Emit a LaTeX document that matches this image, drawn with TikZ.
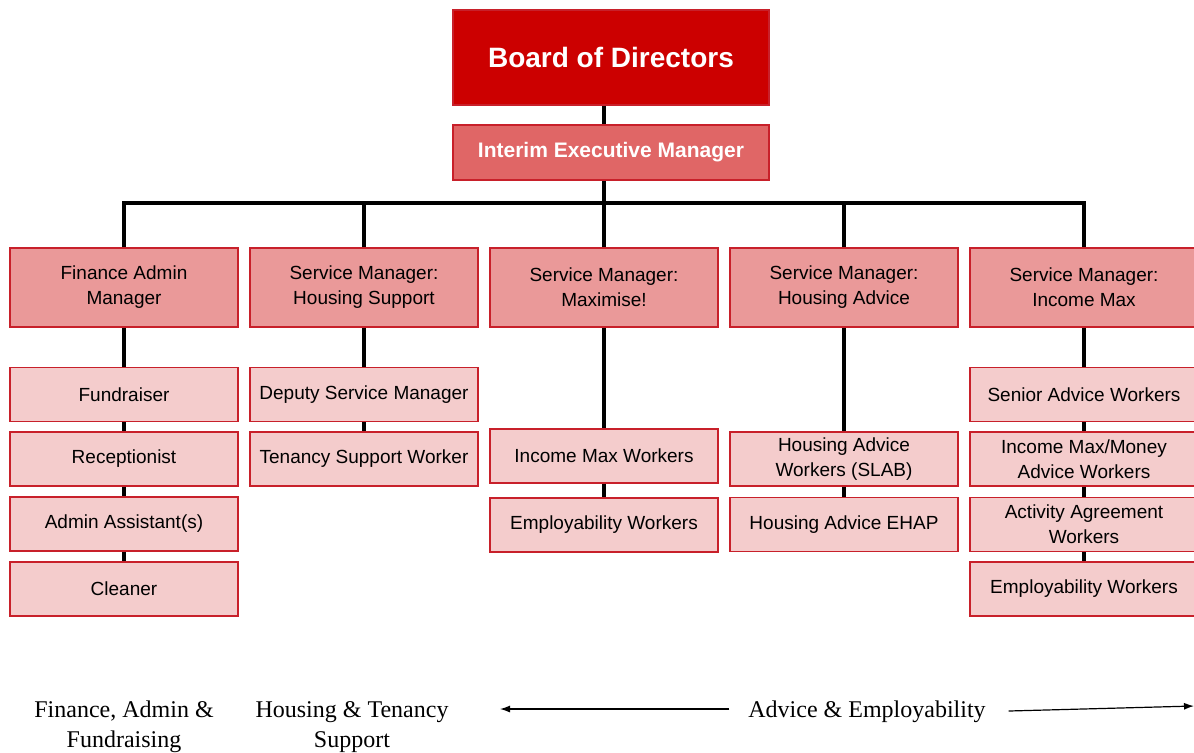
\documentclass[tikz,border=0pt]{standalone}
\usepackage{fontspec}
\usetikzlibrary{arrows.meta}
\setmainfont{Liberation Serif}
\setsansfont{Liberation Sans}
\definecolor{boardred}{HTML}{CC0000}
\definecolor{execred}{HTML}{E06666}
\definecolor{mgrpink}{HTML}{EA9999}
\definecolor{staffpink}{HTML}{F4CCCC}
\definecolor{edgered}{HTML}{C8202A}
\begin{document}
\begin{tikzpicture}[x=0.5pt,y=-0.5pt,
        box/.style={draw=edgered, line width=0.7pt, inner sep=1pt, align=center, minimum width=114pt, font=\sffamily\fontsize{9.5}{12.5}\selectfont},
        mgr/.style={box, fill=mgrpink, minimum height=39.5pt},
        staff/.style={box, fill=staffpink, minimum height=27pt},
        link/.style={line width=2pt, black},
        group/.style={align=center, font=\fontsize{12}{15}\selectfont},
        span/.style={-{Latex[length=5pt,width=3.5pt]}, line width=0.6pt}]
        \useasboundingbox (0,0) rectangle (1194,752);
        \node[box, fill=boardred, text=white, minimum width=158pt, minimum height=47.5pt, font=\sffamily\bfseries\fontsize{14}{16}\selectfont] (board) at (611,57.5) {Board of Directors};
        \node[box, fill=execred, text=white, minimum width=158pt, minimum height=27.5pt, font=\sffamily\bfseries\fontsize{10.5}{12}\selectfont] (exec) at (611,152.5) {Interim Executive Manager};

        \node[mgr] (fin) at (124,287.5) {Finance Admin\\Manager};
        \node[mgr] (hsup) at (364,287.5) {Service Manager:\\Housing Support};
        \node[mgr] (maxi) at (604,287.5) {Service Manager:\\Maximise!};
        \node[mgr] (hadv) at (844,287.5) {Service Manager:\\Housing Advice};
        \node[mgr] (imax) at (1084,287.5) {Service Manager:\\Income Max};

        \node[staff] (fund) at (124,394.5) {Fundraiser};
        \node[staff] (recp) at (124,459) {Receptionist};
        \node[staff] (admn) at (124,524) {Admin Assistant(s)};
        \node[staff] (clnr) at (124,589) {Cleaner};
        \node[staff] (dep) at (364,394.5) {Deputy Service Manager};
        \node[staff] (tsw) at (364,459) {Tenancy Support Worker};
        \node[staff] (imw) at (604,456) {Income Max Workers};
        \node[staff] (emp1) at (604,525) {Employability Workers};
        \node[staff] (slab) at (844,459) {Housing Advice\\Workers (SLAB)};
        \node[staff] (ehap) at (844,524.5) {Housing Advice EHAP};
        \node[staff] (saw) at (1084,394.5) {Senior Advice Workers};
        \node[staff] (mon) at (1084,459) {Income Max/Money\\Advice Workers};
        \node[staff] (act) at (1084,524.5) {Activity Agreement\\Workers};
        \node[staff] (emp2) at (1084,589) {Employability Workers};

        \coordinate (bar) at (604,203);
        \draw[link] (board.south -| maxi.center) -- (exec.north -| maxi.center);
        \draw[link] (exec.south -| maxi.center) -- (bar);
        \draw[link] (fin.north) |- (bar) -| (imax.north);
        \foreach \m in {hsup,maxi,hadv}
            \draw[link] (\m.north) -- (\m.north |- bar);
        \foreach \a/\b in {fin/fund,fund/recp,recp/admn,admn/clnr,hsup/dep,dep/tsw,maxi/imw,imw/emp1,hadv/slab,slab/ehap,imax/saw,saw/mon,mon/act,act/emp2}
            \draw[link] (\a.south) -- (\b.north);

        \node[group] (gfin) at (124,727) {Finance, Admin \&\\Fundraising};
        \node[group] (ghou) at (352,727) {Housing \& Tenancy\\Support};
        \node[group] (gadv) at (867,712) {Advice \& Employability};
        \coordinate (lend) at (500,709);
        \coordinate (rend) at (1194,706);
        \draw[span] ([xshift=-6pt,yshift=1.5pt]gadv.west) -- (lend);
        \draw[span] ([xshift=8pt,yshift=0.5pt]gadv.east) -- (rend);
\end{tikzpicture}
\end{document}
